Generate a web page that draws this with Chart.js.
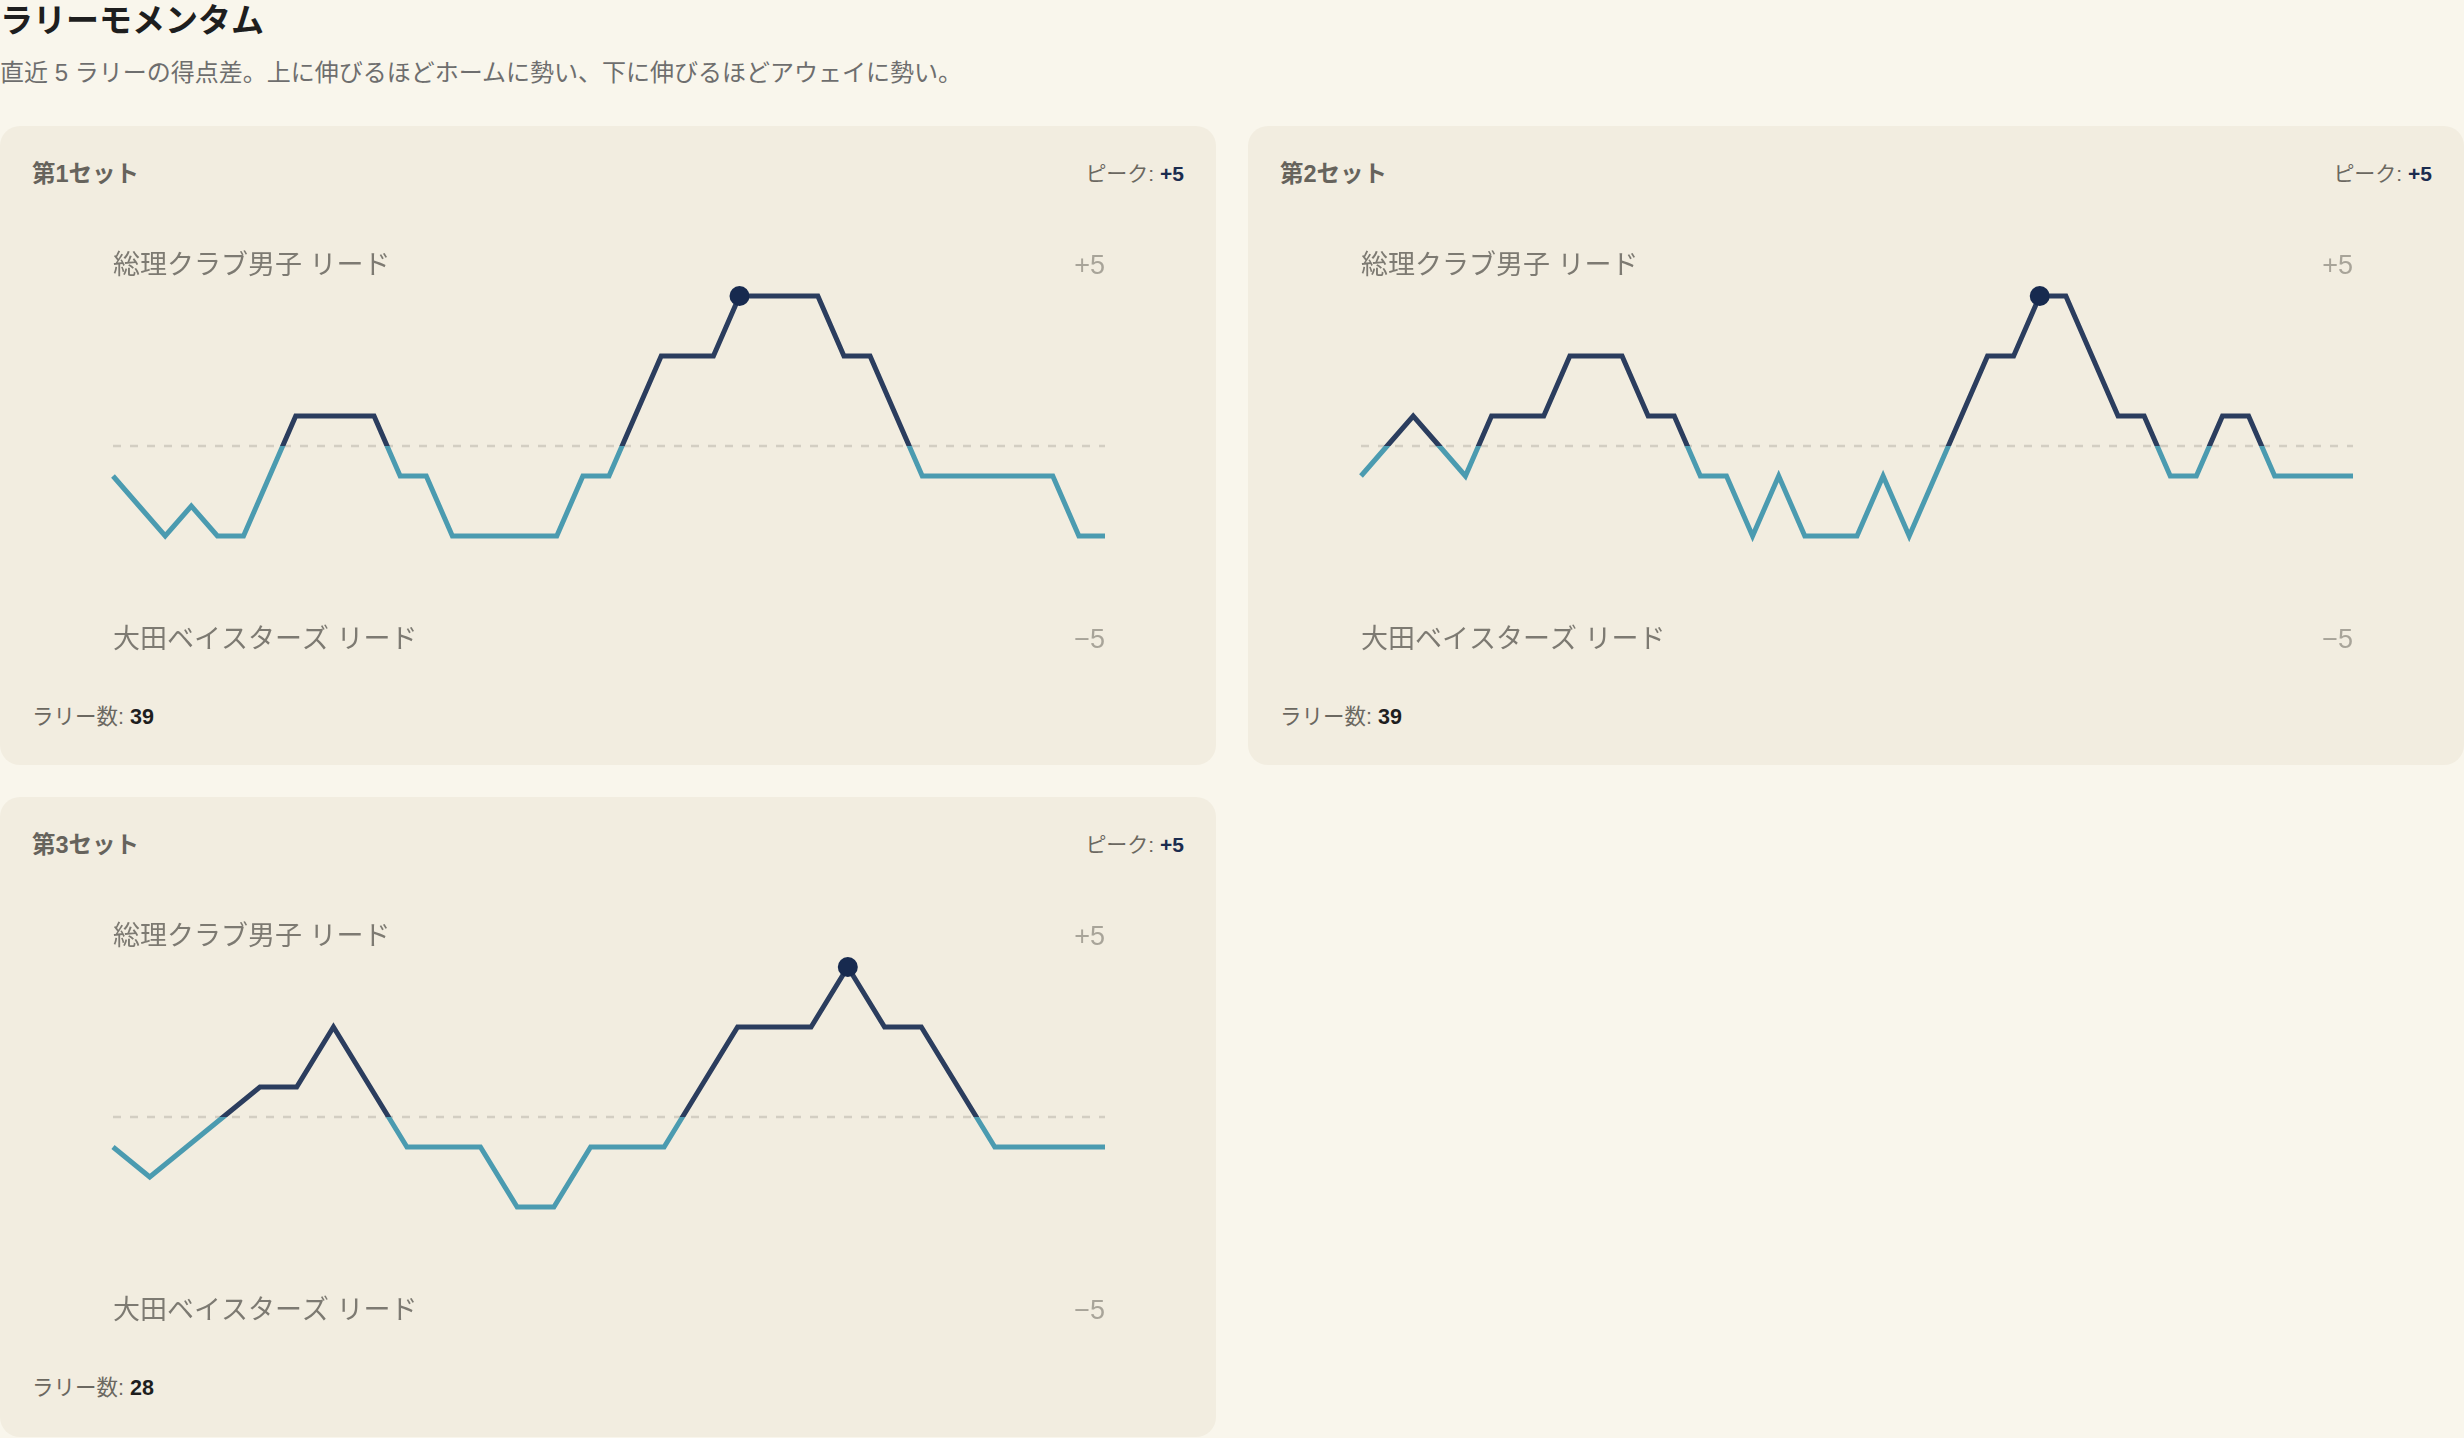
<!DOCTYPE html>
<html lang="ja">
<head>
<meta charset="utf-8">
<script src="https://cdn.jsdelivr.net/npm/chart.js@4/dist/chart.umd.min.js"></script>
<style>
  html, body { margin: 0; padding: 0; }
  body { width: 2464px; height: 1438px; background: #f9f6ec; position: relative; overflow: hidden;
         font-family: "Liberation Sans", Arial, "Noto Sans CJK JP", sans-serif; }
  .title { position: absolute; left: 0; top: 4px; font-size: 33px; line-height: 33px; font-weight: 700; color: #1e1e1e; white-space: nowrap; }
  .subtitle { position: absolute; left: 0; top: 61px; font-size: 24px; line-height: 24px; color: #6e6e6e; white-space: nowrap; }
  .panel { position: absolute; width: 1216px; background: #f2ede0; border-radius: 20px; }
  .panel h3 { position: absolute; left: 32px; top: 37px; margin: 0; font-size: 23.5px; line-height: 23.5px; font-weight: 700; color: #66635c; white-space: nowrap; }
  .panel .peak { position: absolute; right: 32px; top: 37px; font-size: 21px; line-height: 21px; color: #6b6860; white-space: nowrap; }
  .panel .peak b { color: #1b2c4f; }
  .panel .count { position: absolute; left: 32px; top: 581px; font-size: 21.5px; line-height: 21.5px; color: #6b6860; white-space: nowrap; }
  .panel .count b { color: #1e1e1e; }
  .panel canvas { position: absolute; left: 0; top: 100px; }
</style>
</head>
<body>
<div class="title">ラリーモメンタム</div>
<div class="subtitle">直近 5 ラリーの得点差。上に伸びるほどホームに勢い、下に伸びるほどアウェイに勢い。</div>

<div id="panels"></div>

<script>
// ---- data ----
const setNames = ["第1セット", "第2セット", "第3セット"];
const homeLabel = "総理クラブ男子 リード";
const awayLabel = "大田ベイスターズ リード";
const topTick = "+5";
const bottomTick = "−5";

const rallies1 = [1,2,3,4,5,6,7,8,9,10,11,12,13,14,15,16,17,18,19,20,21,22,23,24,25,26,27,28,29,30,31,32,33,34,35,36,37,38,39];
const momentum1 = [-1,-2,-3,-2,-3,-3,-1,1,1,1,1,-1,-1,-3,-3,-3,-3,-3,-1,-1,1,3,3,3,5,5,5,5,3,3,1,-1,-1,-1,-1,-1,-1,-3,-3];

const rallies2 = [1,2,3,4,5,6,7,8,9,10,11,12,13,14,15,16,17,18,19,20,21,22,23,24,25,26,27,28,29,30,31,32,33,34,35,36,37,38,39];
const momentum2 = [-1,0,1,0,-1,1,1,1,3,3,3,1,1,-1,-1,-3,-1,-3,-3,-3,-1,-3,-1,1,3,3,5,5,3,1,1,-1,-1,1,1,-1,-1,-1,-1];

const rallies3 = [1,2,3,4,5,6,7,8,9,10,11,12,13,14,15,16,17,18,19,20,21,22,23,24,25,26,27,28];
const momentum3 = [-1,-2,-1,0,1,1,3,1,-1,-1,-1,-3,-3,-1,-1,-1,1,3,3,3,5,3,3,1,-1,-1,-1,-1];

const zero1 = [0,0,0,0,0,0,0,0,0,0,0,0,0,0,0,0,0,0,0,0,0,0,0,0,0,0,0,0,0,0,0,0,0,0,0,0,0,0,0];
const zero2 = zero1;
const zero3 = [0,0,0,0,0,0,0,0,0,0,0,0,0,0,0,0,0,0,0,0,0,0,0,0,0,0,0,0];

const sets = [
  { name: setNames[0], rallies: rallies1, values: momentum1, zero: zero1 },
  { name: setNames[1], rallies: rallies2, values: momentum2, zero: zero2 },
  { name: setNames[2], rallies: rallies3, values: momentum3, zero: zero3 }
];

// ---- layout ----
const panelBoxes = [
  { left: 0, top: 126, height: 639 },
  { left: 1248, top: 126, height: 639 },
  { left: 0, top: 797, height: 640 }
];

const NAVY = "#2b3d5e";
const TEAL = "#4b9bb0";
const PEAK = "#172a4f";

const labelPlugin = {
  id: "sideLabels",
  afterDraw(chart) {
    const { ctx, chartArea, scales } = chart;
    const y = scales.y;
    ctx.save();
    ctx.textBaseline = "middle";
    ctx.font = '27px "Liberation Sans", Arial, "Noto Sans CJK JP", sans-serif';
    ctx.fillStyle = "#7d7a72";
    ctx.textAlign = "left";
    ctx.fillText(homeLabel, chartArea.left, y.getPixelForValue(5.97));
    ctx.fillText(awayLabel, chartArea.left, y.getPixelForValue(-6.48));
    ctx.font = '27px "Liberation Sans", Arial, sans-serif';
    ctx.fillStyle = "#a8a499";
    ctx.textAlign = "right";
    ctx.fillText(topTick, chartArea.right, y.getPixelForValue(5.97));
    ctx.fillText(bottomTick, chartArea.right, y.getPixelForValue(-6.48));
    ctx.restore();
  }
};

const container = document.getElementById("panels");
sets.forEach((s, i) => {
  const box = panelBoxes[i];
  const peakVal = Math.max(...s.values);
  const peakIdx = s.values.indexOf(peakVal);
  const panel = document.createElement("div");
  panel.className = "panel";
  panel.style.left = box.left + "px";
  panel.style.top = box.top + "px";
  panel.style.height = box.height + "px";
  panel.innerHTML =
    '<h3>' + s.name + '</h3>' +
    '<div class="peak">ピーク: <b>' + (peakVal > 0 ? "+" : "") + peakVal + '</b></div>' +
    '<div class="count">ラリー数: <b>' + s.rallies.length + '</b></div>';
  const canvas = document.createElement("canvas");
  canvas.width = 1216; canvas.height = 440;
  canvas.style.width = "1216px"; canvas.style.height = "440px";
  panel.appendChild(canvas);
  container.appendChild(panel);

  new Chart(canvas, {
    type: "line",
    data: {
      labels: s.rallies,
      datasets: [
        {
          data: s.values,
          order: 1,
          borderWidth: 5,
          borderJoinStyle: "miter",
          tension: 0,
          borderColor: (c) => {
            const chart = c.chart;
            const area = chart.chartArea;
            if (!area) return NAVY;
            const y0 = chart.scales.y.getPixelForValue(0);
            const t = Math.min(1, Math.max(0, (y0 - area.top) / (area.bottom - area.top)));
            const g = chart.ctx.createLinearGradient(0, area.top, 0, area.bottom);
            g.addColorStop(0, NAVY);
            g.addColorStop(t, NAVY);
            g.addColorStop(t, TEAL);
            g.addColorStop(1, TEAL);
            return g;
          },
          pointRadius: (c) => (c.dataIndex === peakIdx ? 10 : 0),
          pointHoverRadius: (c) => (c.dataIndex === peakIdx ? 10 : 0),
          pointBackgroundColor: PEAK,
          pointBorderWidth: 0,
          fill: false
        },
        {
          data: s.zero,
          order: 2,
          borderColor: "#d3cec2",
          borderWidth: 2.5,
          borderDash: [8, 9],
          pointRadius: 0,
          fill: false
        }
      ]
    },
    options: {
      responsive: false,
      animation: false,
      devicePixelRatio: 1,
      layout: { padding: { left: 113, right: 111, top: 25, bottom: 25 } },
      plugins: { legend: { display: false }, tooltip: { enabled: false } },
      events: [],
      scales: {
        x: { type: "category", display: false, offset: false },
        y: { display: false, min: -6.5, max: 6.5 }
      }
    },
    plugins: [labelPlugin]
  });
});
</script>
</body>
</html>
